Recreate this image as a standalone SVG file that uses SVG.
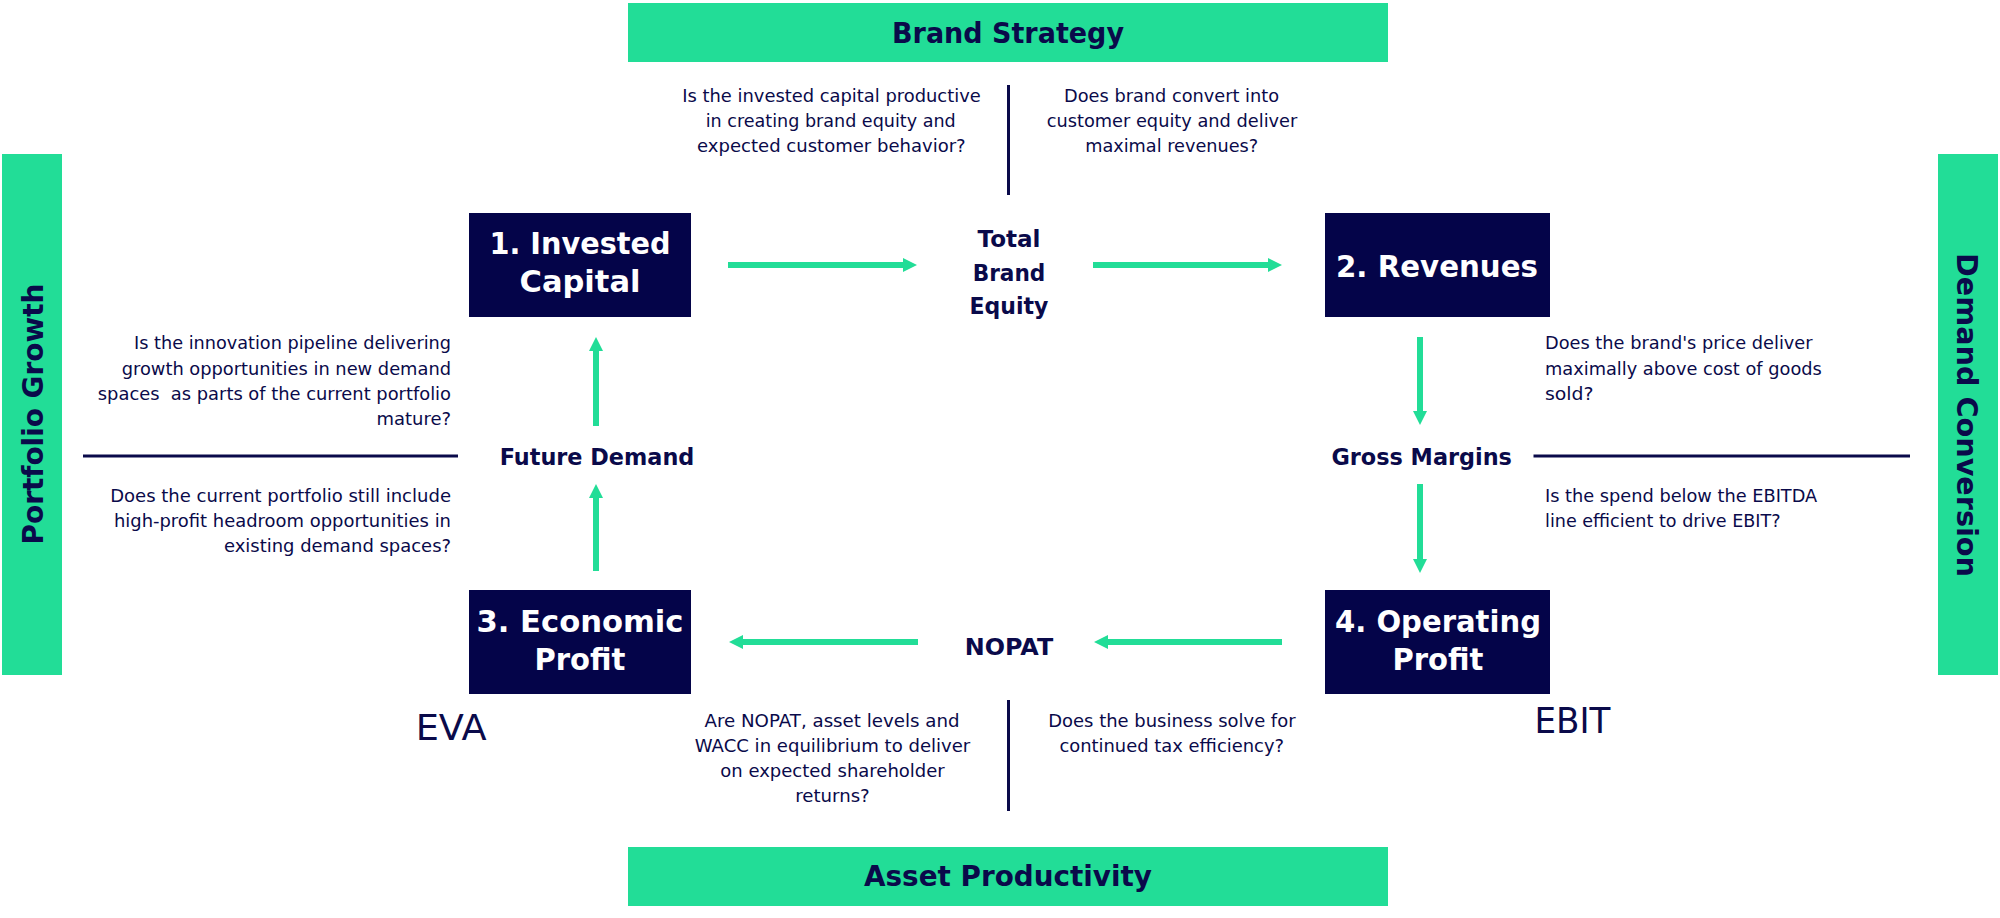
<svg xmlns="http://www.w3.org/2000/svg" width="2000" height="918" viewBox="0 0 2000 918">
<defs>
<style>
.bar{fill:#22dd97}
.box{fill:#040449}
.t{font-family:"DejaVu Sans","Liberation Sans",sans-serif;fill:#0a0a4a}
.q{font-size:17.5px}
.lbl{font-size:23px;font-weight:bold;text-anchor:middle}
.bx{font-size:30px;font-weight:bold;fill:#ffffff;text-anchor:middle}
.hd{font-size:28px;font-weight:bold;text-anchor:middle}
.big{font-size:35px}
.c{text-anchor:middle}
.e{text-anchor:end}
.sep{stroke:#0a0a4a;stroke-width:3;fill:none}
.arr{stroke:#22dd97;stroke-width:6;fill:none;marker-end:url(#ah)}
</style>
<marker id="ah" markerUnits="userSpaceOnUse" markerWidth="14" markerHeight="14" viewBox="0 0 14 14" refX="4" refY="7" orient="auto"><path d="M0,0L14,7L0,14z" fill="#22dd97"/></marker>
</defs>
<rect width="2000" height="918" fill="#ffffff"/>

<g id="brand-strategy">
<rect class="bar" x="628" y="3" width="760" height="59"/>
<text class="t hd" x="1008" y="42.5" textLength="232" lengthAdjust="spacingAndGlyphs">Brand Strategy</text>
</g>
<g id="asset-productivity">
<rect class="bar" x="628" y="847" width="760" height="59"/>
<text class="t hd" x="1008" y="886" textLength="288" lengthAdjust="spacingAndGlyphs">Asset Productivity</text>
</g>
<g id="portfolio-growth">
<rect class="bar" x="2" y="154" width="60" height="521"/>
<text class="t hd" transform="translate(43,414) rotate(-90)" x="0" y="0" textLength="261" lengthAdjust="spacingAndGlyphs">Portfolio Growth</text>
</g>
<g id="demand-conversion">
<rect class="bar" x="1938" y="154" width="60" height="521"/>
<text class="t hd" transform="translate(1957,415) rotate(90)" x="0" y="0" textLength="324" lengthAdjust="spacingAndGlyphs">Demand Conversion</text>
</g>

<g id="invested-capital">
<rect class="box" x="469" y="213" width="222" height="104"/>
<text class="t bx" x="580" y="254" textLength="181" lengthAdjust="spacingAndGlyphs">1. Invested</text>
<text class="t bx" x="580" y="291.5" textLength="121" lengthAdjust="spacingAndGlyphs">Capital</text>
</g>
<g id="revenues">
<rect class="box" x="1325" y="213" width="225" height="104"/>
<text class="t bx" x="1437" y="276.5" textLength="202" lengthAdjust="spacingAndGlyphs">2. Revenues</text>
</g>
<g id="economic-profit">
<rect class="box" x="469" y="590" width="222" height="104"/>
<text class="t bx" x="580" y="631.5" textLength="207" lengthAdjust="spacingAndGlyphs">3. Economic</text>
<text class="t bx" x="580" y="670" textLength="91" lengthAdjust="spacingAndGlyphs">Profit</text>
</g>
<g id="operating-profit">
<rect class="box" x="1325" y="590" width="225" height="104"/>
<text class="t bx" x="1438" y="631.5" textLength="206" lengthAdjust="spacingAndGlyphs">4. Operating</text>
<text class="t bx" x="1438" y="670" textLength="91" lengthAdjust="spacingAndGlyphs">Profit</text>
</g>

<g id="total-brand-equity">
<text class="t lbl" x="1009" y="246.5" textLength="63" lengthAdjust="spacingAndGlyphs">Total</text>
<text class="t lbl" x="1009" y="280.5" textLength="72.6" lengthAdjust="spacingAndGlyphs">Brand</text>
<text class="t lbl" x="1009" y="313.5" textLength="78.8" lengthAdjust="spacingAndGlyphs">Equity</text>
</g>
<g id="future-demand">
<text class="t lbl" x="597" y="465" textLength="194.7" lengthAdjust="spacingAndGlyphs">Future Demand</text>
</g>
<g id="gross-margins">
<text class="t lbl" x="1421.7" y="465" textLength="180.5" lengthAdjust="spacingAndGlyphs">Gross Margins</text>
</g>
<g id="nopat">
<text class="t lbl" x="1009" y="655" textLength="88.4" lengthAdjust="spacingAndGlyphs">NOPAT</text>
</g>

<g id="eva">
<text class="t big" x="415.7" y="740" textLength="71" lengthAdjust="spacingAndGlyphs">EVA</text>
</g>
<g id="ebit">
<text class="t big" x="1534.4" y="733.3" textLength="76" lengthAdjust="spacingAndGlyphs">EBIT</text>
</g>

<g id="separators">
<path class="sep" d="M1008.5,85V195"/>
<path class="sep" d="M1008.5,700V811"/>
<path class="sep" d="M83,456H458"/>
<path class="sep" d="M1533.5,456H1910"/>
</g>

<g id="questions">
<text class="t q c" x="831.5" y="102" textLength="298.5" lengthAdjust="spacingAndGlyphs">Is the invested capital productive</text>
<text class="t q c" x="830.7" y="127" textLength="250" lengthAdjust="spacingAndGlyphs">in creating brand equity and</text>
<text class="t q c" x="831.4" y="152" textLength="268.6" lengthAdjust="spacingAndGlyphs">expected customer behavior?</text>

<text class="t q c" x="1171.6" y="102" textLength="215" lengthAdjust="spacingAndGlyphs">Does brand convert into</text>
<text class="t q c" x="1172" y="127" textLength="250.7" lengthAdjust="spacingAndGlyphs">customer equity and deliver</text>
<text class="t q c" x="1171.7" y="152" textLength="173" lengthAdjust="spacingAndGlyphs">maximal revenues?</text>

<text class="t q e" x="451" y="349.3" textLength="317" lengthAdjust="spacingAndGlyphs">Is the innovation pipeline delivering</text>
<text class="t q e" x="451" y="375" textLength="329.3" lengthAdjust="spacingAndGlyphs">growth opportunities in new demand</text>
<text class="t q e" x="451" y="400" textLength="353.2" lengthAdjust="spacingAndGlyphs" style="white-space:pre">spaces  as parts of the current portfolio</text>
<text class="t q e" x="451" y="425" textLength="74.5" lengthAdjust="spacingAndGlyphs">mature?</text>

<text class="t q e" x="451" y="501.7" textLength="340.8" lengthAdjust="spacingAndGlyphs">Does the current portfolio still include</text>
<text class="t q e" x="451" y="526.7" textLength="337.1" lengthAdjust="spacingAndGlyphs">high-profit headroom opportunities in</text>
<text class="t q e" x="451" y="551.7" textLength="227" lengthAdjust="spacingAndGlyphs">existing demand spaces?</text>

<text class="t q" x="1545" y="349.3" textLength="267.6" lengthAdjust="spacingAndGlyphs">Does the brand's price deliver</text>
<text class="t q" x="1545" y="375" textLength="276.8" lengthAdjust="spacingAndGlyphs">maximally above cost of goods</text>
<text class="t q" x="1545" y="400" textLength="48.6" lengthAdjust="spacingAndGlyphs">sold?</text>

<text class="t q" x="1545" y="501.7" textLength="272.2" lengthAdjust="spacingAndGlyphs">Is the spend below the EBITDA</text>
<text class="t q" x="1545" y="526.7" textLength="235.5" lengthAdjust="spacingAndGlyphs">line efficient to drive EBIT?</text>

<text class="t q c" x="832" y="726.7" textLength="255" lengthAdjust="spacingAndGlyphs">Are NOPAT, asset levels and</text>
<text class="t q c" x="832.5" y="752.3" textLength="275.5" lengthAdjust="spacingAndGlyphs">WACC in equilibrium to deliver</text>
<text class="t q c" x="832.5" y="776.7" textLength="224.5" lengthAdjust="spacingAndGlyphs">on expected shareholder</text>
<text class="t q c" x="832.5" y="801.7" textLength="74.5" lengthAdjust="spacingAndGlyphs">returns?</text>

<text class="t q c" x="1171.9" y="726.7" textLength="247.3" lengthAdjust="spacingAndGlyphs">Does the business solve for</text>
<text class="t q c" x="1171.7" y="752.3" textLength="224.6" lengthAdjust="spacingAndGlyphs">continued tax efficiency?</text>
</g>

<g id="connectors">
<path class="arr" d="M728,265H907"/>
<path class="arr" d="M1093,265H1272"/>
<path class="arr" d="M1420,337V415"/>
<path class="arr" d="M1420,484V563"/>
<path class="arr" d="M1282,642H1104"/>
<path class="arr" d="M918,642H739"/>
<path class="arr" d="M596,571V494"/>
<path class="arr" d="M596,426V347"/>
</g>
</svg>
